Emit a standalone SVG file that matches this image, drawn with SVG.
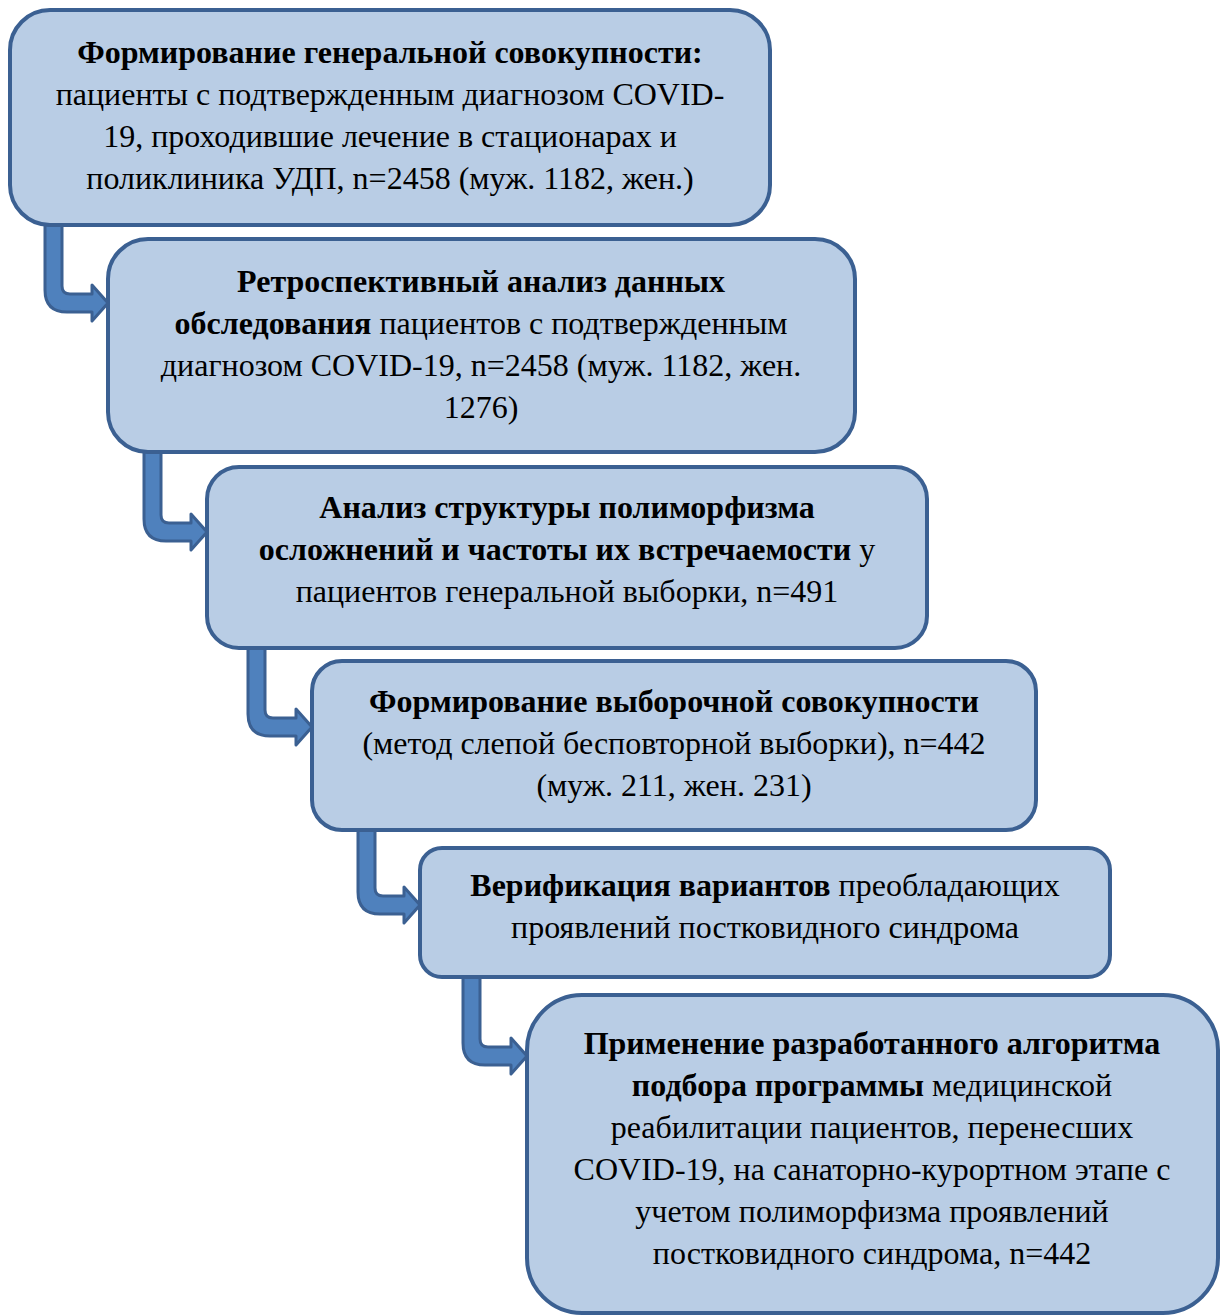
<svg xmlns="http://www.w3.org/2000/svg" width="1221" height="1315" viewBox="0 0 1221 1315">
<style>
.box{fill:#b9cde5;stroke:#3b6092;stroke-width:4}
.arr{fill:#4f81bd;stroke:#3b6092;stroke-width:3;stroke-linejoin:round}
text{font-family:"Liberation Serif","Times New Roman",serif;font-size:32px;fill:#000;text-anchor:middle}
.b{font-weight:bold}
</style>
<rect width="1221" height="1315" fill="#fff"/>
<g id="connectors">
<path class="arr" d="M45,225 V290 Q45,312 67,312 H92 V321 L108,303 L92,285 V294 H70 Q62,294 62,286 V225 Z"/>
<path class="arr" d="M144,452 V519 Q144,541 166,541 H191 V550 L207,532 L191,514 V523 H169 Q161,523 161,515 V452 Z"/>
<path class="arr" d="M248,648 V714 Q248,736 270,736 H296 V745 L312,727 L296,709 V718 H273 Q265,718 265,710 V648 Z"/>
<path class="arr" d="M358,830 V892 Q358,914 380,914 H404 V923 L420,905 L404,887 V896 H383 Q375,896 375,888 V830 Z"/>
<path class="arr" d="M463,977 V1043 Q463,1065 485,1065 H511 V1074 L527,1056 L511,1038 V1047 H488 Q480,1047 480,1039 V977 Z"/>
</g>
<g id="node1">
<rect class="box" x="10" y="10" width="760" height="215" rx="40"/>
<text x="390" y="63" class="b">Формирование генеральной совокупности:</text>
<text x="390" y="105">пациенты с подтвержденным диагнозом COVID-</text>
<text x="390" y="147">19, проходившие лечение в стационарах и</text>
<text x="390" y="189">поликлиника УДП, n=2458 (муж. 1182, жен.)</text>
</g>
<g id="node2">
<rect class="box" x="108" y="239" width="747" height="213" rx="40"/>
<text x="481" y="292" class="b">Ретроспективный анализ данных</text>
<text x="481" y="334"><tspan class="b">обследования</tspan> пациентов с подтвержденным</text>
<text x="481" y="376">диагнозом COVID-19, n=2458 (муж. 1182, жен.</text>
<text x="481" y="418">1276)</text>
</g>
<g id="node3">
<rect class="box" x="207" y="467" width="720" height="181" rx="32"/>
<text x="567" y="518" class="b">Анализ структуры полиморфизма</text>
<text x="567" y="560"><tspan class="b">осложнений и частоты их встречаемости</tspan> у</text>
<text x="567" y="602">пациентов генеральной выборки, n=491</text>
</g>
<g id="node4">
<rect class="box" x="312" y="661" width="724" height="169" rx="30"/>
<text x="674" y="712" class="b">Формирование выборочной совокупности</text>
<text x="674" y="754">(метод слепой бесповторной выборки), n=442</text>
<text x="674" y="796">(муж. 211, жен. 231)</text>
</g>
<g id="node5">
<rect class="box" x="420" y="848" width="690" height="129" rx="22"/>
<text x="765" y="896"><tspan class="b">Верификация вариантов</tspan> преобладающих</text>
<text x="765" y="938">проявлений постковидного синдрома</text>
</g>
<g id="node6">
<rect class="box" x="527" y="995" width="691" height="318" rx="55"/>
<text x="872" y="1054" class="b">Применение разработанного алгоритма</text>
<text x="872" y="1096"><tspan class="b">подбора программы</tspan> медицинской</text>
<text x="872" y="1138">реабилитации пациентов, перенесших</text>
<text x="872" y="1180">COVID-19, на санаторно-курортном этапе с</text>
<text x="872" y="1222">учетом полиморфизма проявлений</text>
<text x="872" y="1264">постковидного синдрома, n=442</text>
</g>
</svg>
